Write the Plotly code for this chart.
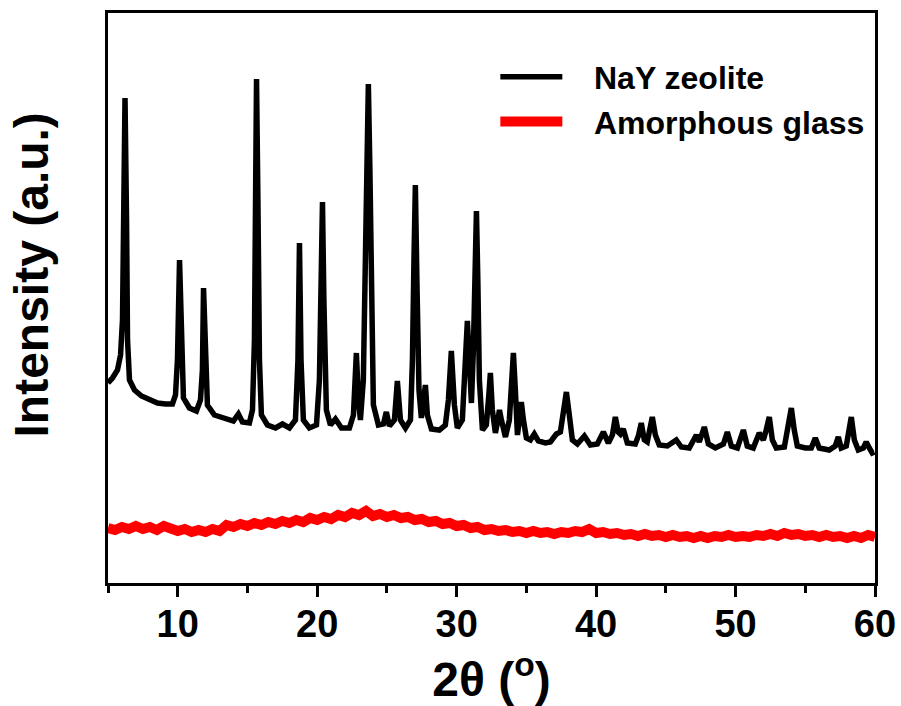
import plotly.graph_objects as go

# ---------------- data ----------------
# NaY zeolite pattern: 2theta (deg) and intensity (a.u.)
nay_2theta = [5.00, 5.32, 5.68, 5.90, 6.04, 6.15, 6.22, 6.33, 6.40, 6.54, 6.90, 7.40, 7.97, 8.55,
              9.12, 9.62, 9.84, 9.98, 10.13, 10.27, 10.41, 10.84, 11.34, 11.63, 11.77, 11.85, 11.99,
              12.13, 12.63, 13.35, 13.99, 14.35, 14.64, 15.14, 15.36, 15.50, 15.57, 15.65, 15.75,
              15.86, 16.00, 16.43, 17.01, 17.51, 18.01, 18.44, 18.62, 18.73, 18.84, 19.01, 19.44,
              19.95, 20.16, 20.30, 20.38, 20.48, 20.66, 20.95, 21.31, 21.74, 22.31, 22.60, 22.81,
              22.96, 23.10, 23.31, 23.46, 23.57, 23.67, 23.78, 23.89, 24.03, 24.39, 24.75, 24.96,
              25.18, 25.54, 25.75, 25.97, 26.33, 26.69, 26.83, 26.94, 27.04, 27.15, 27.30, 27.47,
              27.61, 27.76, 27.90, 28.19, 28.76, 29.19, 29.41, 29.62, 29.84, 30.05, 30.41, 30.63,
              30.77, 30.91, 31.06, 31.20, 31.31, 31.42, 31.52, 31.63, 31.85, 32.13, 32.31, 32.42,
              32.56, 32.78, 32.96, 33.07, 33.21, 33.50, 33.78, 33.93, 34.07, 34.21, 34.36, 34.50,
              34.64, 34.79, 35.00, 35.29, 35.57, 35.86, 36.36, 36.72, 37.15, 37.44, 37.65, 37.87,
              38.08, 38.30, 38.66, 39.16, 39.59, 40.09, 40.52, 40.88, 41.17, 41.38, 41.59, 41.74,
              41.95, 42.24, 42.81, 43.03, 43.24, 43.46, 43.67, 43.82, 44.03, 44.25, 44.53, 45.11,
              45.75, 46.11, 46.68, 47.19, 47.40, 47.76, 48.05, 48.55, 49.13, 49.41, 49.70, 50.13,
              50.34, 50.56, 50.84, 51.27, 51.70, 51.99, 52.20, 52.42, 52.64, 52.92, 53.50, 53.78,
              54.00, 54.21, 54.43, 55.00, 55.43, 55.72, 56.00, 56.72, 57.15, 57.37, 57.58, 57.94,
              58.12, 58.30, 58.52, 58.80, 59.16, 59.37, 59.59, 59.80, 59.95]
nay_intensity = [200, 205, 213, 228, 263, 383, 485, 363, 243, 203, 193, 187, 183, 180,
                 179, 179, 188, 223, 323, 223, 185, 175, 172, 183, 213, 295, 213,
                 178, 168, 165, 162, 169, 161, 160, 173, 243, 383, 504, 383,
                 223, 168, 158, 155, 159, 155, 163, 223, 340, 223, 163, 155,
                 158, 203, 303, 381, 283, 173, 158, 164, 155, 155, 168, 230,
                 183, 163, 203, 333, 433, 499, 413, 283, 178, 158, 159, 171,
                 157, 163, 202, 163, 155, 163, 223, 323, 398, 303, 193, 165,
                 178, 198, 168, 154, 153, 158, 183, 232, 178, 155, 163, 213,
                 262, 223, 180, 233, 323, 372, 303, 203, 153, 158, 188, 210,
                 173, 150, 163, 173, 163, 146, 163, 203, 230, 193, 148, 163,
                 181, 163, 145, 143, 149, 142, 140, 141, 149, 151, 173, 191,
                 168, 143, 139, 147, 138, 139, 151, 140, 148, 166, 151, 149,
                 154, 140, 139, 147, 160, 143, 141, 151, 166, 148, 138, 137,
                 143, 136, 135, 148, 141, 156, 139, 135, 139, 151, 137, 135,
                 143, 153, 137, 135, 150, 143, 153, 166, 143, 135, 136, 158,
                 175, 153, 137, 135, 135, 145, 135, 133, 137, 146, 135, 137,
                 153, 166, 143, 133, 135, 141, 135, 130, 131]

# Amorphous glass pattern: intensity every 0.5 deg from 5 to 60
glass_start, glass_step = 5.0, 0.5
glass_intensity = [55, 53, 56, 54, 57, 54, 56, 53, 57, 54,
                   52, 54, 51, 53, 51, 54, 52, 58, 56, 59,
                   57, 60, 58, 61, 59, 62, 60, 63, 61, 65,
                   63, 66, 64, 68, 66, 70, 68, 72, 67, 69,
                   66, 68, 65, 66, 63, 64, 61, 62, 59, 60,
                   57, 58, 55, 56, 53, 54, 52, 53, 51, 52,
                   50, 52, 50, 51, 49, 51, 50, 52, 51, 54,
                   50, 51, 49, 50, 48, 49, 47, 49, 47, 48,
                   46, 48, 46, 47, 45, 47, 45, 47, 46, 48,
                   46, 47, 46, 48, 47, 49, 47, 50, 48, 49,
                   47, 48, 46, 48, 46, 47, 45, 47, 45, 48,
                   46]
glass_2theta = [glass_start + glass_step * i for i in range(len(glass_intensity))]

series_names = ["NaY zeolite", "Amorphous glass"]
x_ticks = [10, 20, 30, 40, 50, 60]

# ---------------- figure ----------------
FONT = "Liberation Sans, Arial, sans-serif"
PAD = "\u00a0\u00a0\u00a0"

fig = go.Figure()
fig.add_trace(go.Scatter(x=nay_2theta, y=nay_intensity, mode="lines", name=PAD + series_names[0],
                         line=dict(color="black", width=5.5)))
fig.add_trace(go.Scatter(x=glass_2theta, y=glass_intensity, mode="lines", name=PAD + series_names[1],
                         line=dict(color="#ff0000", width=10)))

fig.update_layout(
    width=901, height=706,
    margin=dict(l=108, r=26, t=13, b=123, autoexpand=False),
    paper_bgcolor="white", plot_bgcolor="white",
    font=dict(family=FONT, color="black", weight="bold"),
    showlegend=True,
    legend=dict(x=0.505, y=0.936, xanchor="left", yanchor="top",
                font=dict(size=32, family=FONT, weight="bold"),
                itemwidth=62, bgcolor="rgba(0,0,0,0)", tracegroupgap=0),
    annotations=[dict(text="Intensity (a.u.)", textangle=-90, xref="paper", yref="paper",
                      x=-0.1, y=0.54, xanchor="center", yanchor="middle", showarrow=False,
                      font=dict(size=48, family=FONT, weight="bold"))],
)
fig.update_xaxes(range=[5, 60], tickvals=x_ticks, ticks="outside", ticklen=11, tickwidth=3,
                 tickcolor="black", showline=True, linewidth=3, linecolor="black", mirror=True,
                 showgrid=False, zeroline=False, ticklabelstandoff=-6,
                 tickfont=dict(size=38, family=FONT, weight="bold"),
                 minor=dict(tickvals=[5, 15, 25, 35, 45, 55], ticks="outside", ticklen=7,
                            tickwidth=3, tickcolor="black"),
                 title=dict(text="2θ (<sup>o</sup>)", font=dict(size=48, family=FONT, weight="bold"),
                            standoff=33))
fig.update_yaxes(range=[0, 570], showticklabels=False, ticks="", showline=True, linewidth=3,
                 linecolor="black", mirror=True, showgrid=False, zeroline=False)

fig.write_html("out.html", config={"displayModeBar": False},
               post_script="document.body.style.margin='0';")
